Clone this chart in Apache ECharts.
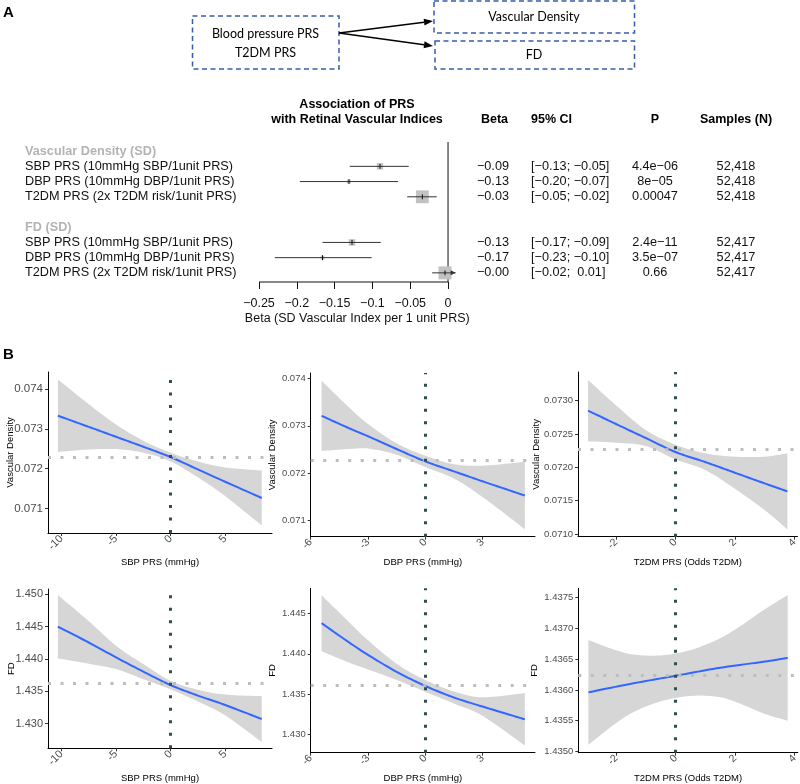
<!DOCTYPE html>
<html><head><meta charset="utf-8">
<script src="https://cdn.jsdelivr.net/npm/echarts@6/dist/echarts.min.js"></script>
<style>html,body{margin:0;padding:0;background:#fff}#c{width:800px;height:784px}</style>
</head><body><div id="c"></div>
<script>
// ---------- Panel A: forest plot data ----------
const forestLabels = ['SBP PRS (10mmHg SBP/1unit PRS)','DBP PRS (10mmHg DBP/1unit PRS)','T2DM PRS (2x T2DM risk/1unit PRS)'];
const forestGroups = ['Vascular Density (SD)','FD (SD)'];
const vdBeta = [-0.090,-0.131,-0.034];
const vdLo   = [-0.130,-0.196,-0.054];
const vdHi   = [-0.052,-0.066,-0.015];
const fdBeta = [-0.127,-0.166,-0.004];
const fdLo   = [-0.166,-0.229,-0.021];
const fdHi   = [-0.089,-0.101,0.012];
const betaText = ['\u22120.09','\u22120.13','\u22120.03','\u22120.13','\u22120.17','\u22120.00'];
const ciText = ['[\u22120.13; \u22120.05]','[\u22120.20; \u22120.07]','[\u22120.05; \u22120.02]','[\u22120.17; \u22120.09]','[\u22120.23; \u22120.10]','[\u22120.02;\u00a0 0.01]'];
const pText = ['4.4e\u221206','8e\u221205','0.00047','2.4e\u221211','3.5e\u221207','0.66'];
const nText = ['52,418','52,418','52,418','52,417','52,417','52,417'];
const forestTicks = [-0.25,-0.2,-0.15,-0.1,-0.05,0];

// ---------- Panel B: smooth fits with 95% bands ----------
const sbpX = [-10.33,-7.5,-5,-2.5,0,2.5,5,8.36];
const dbpX = [-5.43,-4,-3,-1.5,0,1.5,3,5.22];
const t2dX = [-2.94,-2,-1,0,1,2,3,3.77];
const t2dX6 = [-2.94,-1.5,0,1.5,3,3.77];
const vdSbpFit = [0.07333,0.07305,0.07280,0.07255,0.07229,0.07198,0.07167,0.07126];
const vdSbpLo  = [0.07242,0.07248,0.07249,0.07240,0.07218,0.07178,0.07131,0.07057];
const vdSbpHi  = [0.07424,0.07362,0.07311,0.07270,0.07240,0.07218,0.07203,0.07195];
const vdDbpFit = [0.07321,0.07295,0.07278,0.07251,0.07225,0.07204,0.07183,0.07153];
const vdDbpLo  = [0.07247,0.07251,0.07252,0.07239,0.07213,0.07189,0.07150,0.07082];
const vdDbpHi  = [0.07395,0.07339,0.07304,0.07263,0.07237,0.07219,0.07216,0.07224];
const vdT2dFit = [0.07285,0.07265,0.07244,0.07223,0.07208,0.07192,0.07176,0.07164];
const vdT2dLo  = [0.07239,0.07237,0.07232,0.07212,0.07196,0.07168,0.07136,0.07107];
const vdT2dHi  = [0.07331,0.07293,0.07256,0.07234,0.07221,0.07216,0.07216,0.07221];
const fdSbpFit = [1.44499,1.44255,1.44025,1.43805,1.43597,1.43435,1.43290,1.43072];
const fdSbpLo  = [1.44010,1.43926,1.43845,1.43689,1.43530,1.43345,1.43130,1.42717];
const fdSbpHi  = [1.44988,1.44584,1.44205,1.43921,1.43664,1.43525,1.43450,1.43427];
const fdDbpFit = [1.44378,1.44142,1.43987,1.43777,1.43603,1.43460,1.43348,1.43190];
const fdDbpLo  = [1.44032,1.43892,1.43807,1.43677,1.43530,1.43385,1.43233,1.42866];
const fdDbpHi  = [1.44724,1.44392,1.44167,1.43877,1.43676,1.43535,1.43463,1.43514];
const fdT2dFit = [1.43596,1.43610,1.43623,1.43636,1.43646,1.43652];
const fdT2dLo  = [1.43511,1.43562,1.43587,1.43588,1.43561,1.43550];
const fdT2dHi  = [1.43681,1.43658,1.43659,1.43684,1.43731,1.43754];
const refLines = [0.07228,0.072265,0.07227,1.43624,1.43615,1.43623];
const sbpTicks = [-10,-5,0,5];
const dbpTicks = [-6,-3,0,3];
const t2dTicks = [-2,0,2,4];
const vdTicks = [0.071,0.072,0.073,0.074];
const vdTicks3 = [0.0710,0.0715,0.0720,0.0725,0.0730];
const fdTicks1 = [1.430,1.435,1.440,1.445,1.450];
const fdTicks2 = [1.430,1.435,1.440,1.445];
const fdTicks3 = [1.4350,1.4355,1.4360,1.4365,1.4370,1.4375];

const FONT = "'Liberation Sans', Arial, Helvetica, sans-serif";
const chart = echarts.init(document.getElementById('c'), null, {renderer:'canvas', width:800, height:784});

const panels = [
 {grid:{left:48,top:372,width:224,height:161}, x:sbpX, fit:vdSbpFit, lo:vdSbpLo, hi:vdSbpHi, xr:[-11.24,9.3], yr:[0.07038,0.07443], xt:sbpTicks, yt:vdTicks, dec:3, xName:'SBP PRS (mmHg)', yName:'Vascular Density', yfs:11.5, xfs:11, yGap:32.3, xGap:24},
 {grid:{left:310.7,top:373,width:224.3,height:163.7}, x:dbpX, fit:vdDbpFit, lo:vdDbpLo, hi:vdDbpHi, xr:[-6,5.75], yr:[0.070663,0.074112], xt:dbpTicks, yt:vdTicks, dec:3, xName:'DBP PRS (mmHg)', yName:'Vascular Density', yfs:9.5, xfs:10.5, yGap:33, xGap:20.3},
 {grid:{left:578,top:372,width:219.5,height:164.7}, x:t2dX, fit:vdT2dFit, lo:vdT2dLo, hi:vdT2dHi, xr:[-3.28,4.11], yr:[0.07096,0.07343], xt:t2dTicks, yt:vdTicks3, dec:4, xName:'T2DM PRS (Odds T2DM)', yName:'Vascular Density', yfs:9.5, xfs:10.5, yGap:36.6, xGap:20.3},
 {grid:{left:48,top:589,width:224,height:159.3}, x:sbpX, fit:fdSbpFit, lo:fdSbpLo, hi:fdSbpHi, xr:[-11.24,9.3], yr:[1.4262,1.45082], xt:sbpTicks, yt:fdTicks1, dec:3, xName:'SBP PRS (mmHg)', yName:'FD', yfs:11, xfs:11, yGap:31.6, xGap:25.3},
 {grid:{left:310.7,top:588.3,width:224.3,height:164.4}, x:dbpX, fit:fdDbpFit, lo:fdDbpLo, hi:fdDbpHi, xr:[-6,5.75], yr:[1.42778,1.44809], xt:dbpTicks, yt:fdTicks2, dec:3, xName:'DBP PRS (mmHg)', yName:'FD', yfs:9.5, xfs:10.5, yGap:33, xGap:20.9},
 {grid:{left:578.3,top:588.3,width:219.5,height:164.4}, x:t2dX6, fit:fdT2dFit, lo:fdT2dLo, hi:fdT2dHi, xr:[-3.28,4.11], yr:[1.43498,1.43765], xt:t2dTicks, yt:fdTicks3, dec:4, xName:'T2DM PRS (Odds T2DM)', yName:'FD', yfs:9.5, xfs:10.5, yGap:38.6, xGap:20.9}
];

// Catmull-Rom interpolation in pixel space (for drawing smooth band edges)
function catmull(pts, n){
  const out=[];
  for(let i=0;i<pts.length-1;i++){
    const p0=pts[Math.max(i-1,0)], p1=pts[i], p2=pts[i+1], p3=pts[Math.min(i+2,pts.length-1)];
    for(let t=0;t<n;t++){
      const s=t/n, s2=s*s, s3=s2*s;
      const f=(a,b,c,d)=>0.5*(2*b+(-a+c)*s+(2*a-5*b+4*c-d)*s2+(-a+3*b-3*c+d)*s3);
      out.push([f(p0[0],p1[0],p2[0],p3[0]), f(p0[1],p1[1],p2[1],p3[1])]);
    }
  }
  out.push(pts[pts.length-1]);
  return out;
}

const grids=[], xAxes=[], yAxes=[], series=[];
panels.forEach((p,i)=>{
  grids.push(Object.assign({containLabel:false, outerBoundsMode:'none'}, p.grid));
  xAxes.push({gridIndex:i, type:'value', min:p.xr[0], max:p.xr[1],
    axisLine:{show:true, onZero:false, lineStyle:{color:'#000', width:1}},
    axisTick:{show:true, customValues:p.xt, length:3, lineStyle:{color:'#333'}},
    axisLabel:{customValues:p.xt, rotate:45, fontSize:p.xfs, color:'#4d4d4d', margin:4, fontFamily:FONT, formatter:v=>String(v)},
    splitLine:{show:false}, name:p.xName, nameLocation:'middle', nameGap:p.xGap, nameMoveOverlap:false,
    nameTextStyle:{fontSize:9.5, color:'#000', fontFamily:FONT}});
  yAxes.push({gridIndex:i, type:'value', min:p.yr[0], max:p.yr[1],
    axisLine:{show:true, onZero:false, lineStyle:{color:'#000', width:1}},
    axisTick:{show:true, customValues:p.yt, length:3, lineStyle:{color:'#333'}},
    axisLabel:{customValues:p.yt, fontSize:p.yfs, color:'#4d4d4d', margin:5, fontFamily:FONT, formatter:v=>v.toFixed(p.dec)},
    splitLine:{show:false}, name:p.yName, nameLocation:'middle', nameGap:p.yGap, nameMoveOverlap:false,
    nameTextStyle:{fontSize:9.5, color:'#000', fontFamily:FONT}});
  // 95% band
  series.push({type:'custom', xAxisIndex:i, yAxisIndex:i, silent:true, clip:true, z:1, data:[[p.x[0], p.fit[0]]],
    renderItem:(params, api)=>{
      const up = catmull(p.x.map((x,k)=>api.coord([x,p.hi[k]])), 12);
      const dn = catmull(p.x.map((x,k)=>api.coord([x,p.lo[k]])), 12).reverse();
      return {type:'polygon', shape:{points:up.concat(dn)}, style:{fill:'#d6d6d6', stroke:null}};
    }});
  // fitted line + reference lines
  series.push({type:'custom', xAxisIndex:i, yAxisIndex:i, silent:true, clip:true, z:3, data:[[p.x[0], p.fit[0]]],
    renderItem:(params, api)=>{
      const pts = catmull(p.x.map((x,k)=>api.coord([x,p.fit[k]])), 12);
      return {type:'polyline', shape:{points:pts}, style:{stroke:'#3366ff', lineWidth:2, fill:null}};
    },
    markLine:{silent:true, symbol:['none','none'], precision:8, label:{show:false}, animation:false,
      data:[
        {yAxis:refLines[i], lineStyle:{color:'#bdbdbd', width:3, type:[3,9.5]}},
        {xAxis:0, lineStyle:{color:'#2f4f4f', width:3, type:[3,9.5]}}
      ]}});
});

// Forest plot grid (index 6)
const FI = 6;
grids.push({left:259, top:142, width:196.6, height:140, containLabel:false, outerBoundsMode:'none'});
xAxes.push({gridIndex:FI, type:'value', min:-0.25, max:0.01,
  axisLine:{show:false, onZero:false},
  axisTick:{show:true, customValues:forestTicks, length:7, lineStyle:{color:'#111', width:1}},
  axisLabel:{customValues:forestTicks, fontSize:12.5, color:'#111', margin:15, fontFamily:FONT, formatter:v=>String(v).replace('-','\u2212')},
  splitLine:{show:false}, name:'Beta (SD Vascular Index per 1 unit PRS)', nameLocation:'middle', nameGap:30.5, nameMoveOverlap:false,
  nameTextStyle:{fontSize:12.5, color:'#111', fontFamily:FONT}});
yAxes.push({gridIndex:FI, type:'value', min:-0.6, max:8.6, inverse:true, show:false});

const forestData = [];
vdBeta.forEach((b,k)=>forestData.push([b, k+1, vdLo[k], vdHi[k]]));
fdBeta.forEach((b,k)=>forestData.push([b, k+6, fdLo[k], fdHi[k]]));
const XMAX = 0.01;

series.push({type:'custom', xAxisIndex:FI, yAxisIndex:FI, silent:true, clip:false, data:[[0,0]], z:2,
  renderItem:(params, api)=>{
    const t = api.coord([0,-0.6]), b = api.coord([0,8.6]), l = api.coord([-0.25,8.6]);
    return {type:'group', children:[
      {type:'line', shape:{x1:t[0],y1:t[1],x2:b[0],y2:b[1]}, style:{stroke:'#111', lineWidth:1}},
      {type:'line', shape:{x1:l[0],y1:l[1],x2:b[0],y2:b[1]}, style:{stroke:'#111', lineWidth:1}}
    ]};
  }});
series.push({type:'custom', xAxisIndex:FI, yAxisIndex:FI, silent:true, clip:false, data:forestData, z:4,
  renderItem:(params, api)=>{
    const beta=api.value(0), row=api.value(1), lo=api.value(2), hi=api.value(3);
    const s = Math.min(13, 0.5/(hi-lo));
    const p = api.coord([beta,row]), pl = api.coord([lo,row]), ph = api.coord([Math.min(hi,XMAX),row]);
    const ch = [
      {type:'rect', shape:{x:p[0]-s/2, y:p[1]-s/2, width:s, height:s}, style:{fill:'#c2c2c2'}},
      {type:'line', shape:{x1:pl[0],y1:pl[1],x2:ph[0],y2:ph[1]}, style:{stroke:'#333', lineWidth:1}},
      {type:'line', shape:{x1:p[0],y1:p[1]-2.5,x2:p[0],y2:p[1]+2.5}, style:{stroke:'#111', lineWidth:1}}
    ];
    if (hi > XMAX) ch.push({type:'polygon', shape:{points:[[ph[0],ph[1]],[ph[0]-5,ph[1]-2.5],[ph[0]-5,ph[1]+2.5]]}, style:{fill:'#333'}});
    return {type:'group', children:ch};
  }});

const tableData = [[0,0,-1],[0,1,0],[0,2,1],[0,3,2],[0,5,-2],[0,6,3],[0,7,4],[0,8,5]];
function txt(x,y,text,align,opts){
  return {type:'text', x:x, y:y, style:Object.assign({text:text, font:'12.7px '+FONT, fill:'#111', align:align, verticalAlign:'middle', textAlign:align, textVerticalAlign:'middle'}, opts||{})};
}
series.push({type:'custom', xAxisIndex:FI, yAxisIndex:FI, silent:true, clip:false, data:tableData, z:5,
  renderItem:(params, api)=>{
    const row=api.value(1), idx=api.value(2);
    const y = api.coord([0,row])[1];
    if (idx < 0) {
      return txt(25, y, forestGroups[-idx-1], 'left', {font:'bold 12.7px '+FONT, fill:'#b3b3b3'});
    }
    return {type:'group', children:[
      txt(25, y, forestLabels[idx%3], 'left'),
      txt(509, y, betaText[idx], 'right'),
      txt(531, y, ciText[idx], 'left'),
      txt(655, y, pText[idx], 'center'),
      txt(736, y, nText[idx], 'center')
    ]};
  }});

// ---------- Graphic: diagram & headers ----------
function arrow(x1,y1,x2,y2){
  const a=Math.atan2(y2-y1,x2-x1), L=9, W=3.5;
  const bx=x2-L*Math.cos(a), by=y2-L*Math.sin(a);
  return [
    {type:'line', shape:{x1:x1,y1:y1,x2:bx,y2:by}, style:{stroke:'#000', lineWidth:1.5}},
    {type:'polygon', shape:{points:[[x2,y2],[bx-W*Math.sin(a), by+W*Math.cos(a)],[bx+W*Math.sin(a), by-W*Math.cos(a)]]}, style:{fill:'#000'}}
  ];
}
const boxStyle = {fill:'none', stroke:'#3a5ca8', lineWidth:1.5, lineDash:[5,3.5]};
const dFont = "12.5px Lato, 'Open Sans', sans-serif";
function gt(x,y,text,font,align,fill){
  return {type:'text', x:x, y:y, style:{text:text, font:font, fill:fill||'#000', align:align||'center', verticalAlign:'middle', textAlign:align||'center', textVerticalAlign:'middle'}};
}
const graphic = [
  gt(3,13,'A','bold 15px '+FONT,'left'),
  gt(3,355,'B','bold 15px '+FONT,'left'),
  {type:'rect', shape:{x:192.5,y:16,width:146.5,height:53}, style:boxStyle},
  {type:'rect', shape:{x:434,y:1,width:200.5,height:32}, style:boxStyle},
  {type:'rect', shape:{x:435,y:41,width:199.5,height:28}, style:boxStyle},
  gt(265.5,33.5,'Blood pressure PRS',dFont),
  gt(265.5,52.5,'T2DM PRS',dFont),
  gt(534,17,'Vascular Density',dFont),
  gt(534,55,'FD',dFont),
  ...arrow(339,33,433,21),
  ...arrow(339,33,433,46),
  gt(357,105,'Association of PRS','bold 12.5px '+FONT),
  gt(357,120,'with Retinal Vascular Indices','bold 12.5px '+FONT),
  gt(508,120,'Beta','bold 12.5px '+FONT,'right'),
  gt(531,120,'95% CI','bold 12.5px '+FONT,'left'),
  gt(655,120,'P','bold 12.5px '+FONT),
  gt(736,120,'Samples (N)','bold 12.5px '+FONT)
];

chart.setOption({
  animation:false,
  backgroundColor:'#fff',
  textStyle:{fontFamily:FONT},
  grid:grids, xAxis:xAxes, yAxis:yAxes, series:series,
  graphic:{elements:graphic}
});
</script></body></html>
